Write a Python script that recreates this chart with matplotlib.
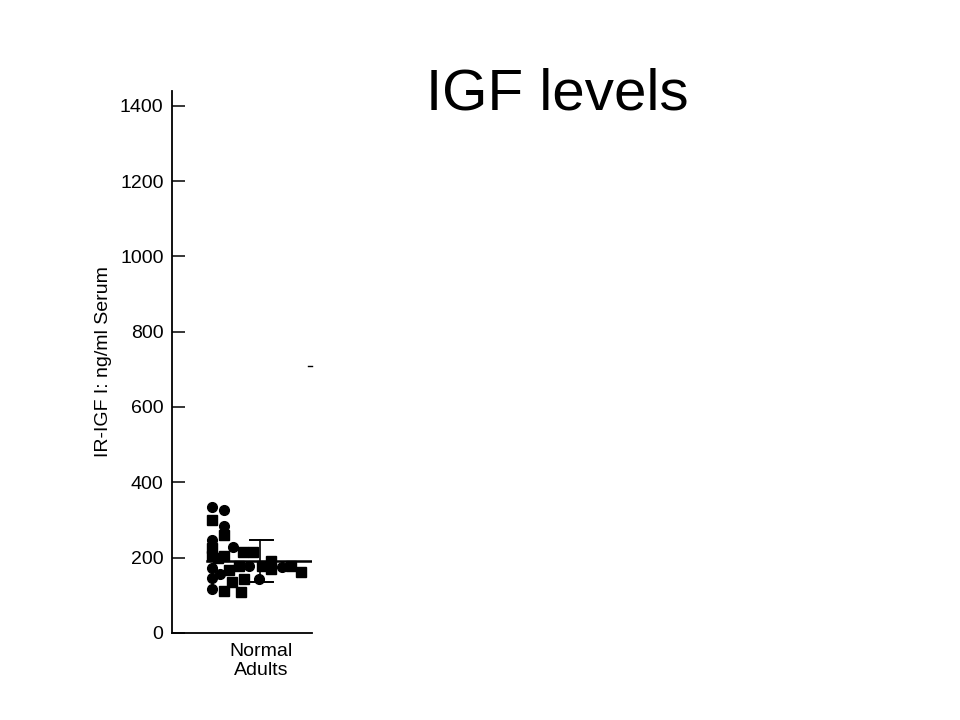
import numpy as np
import matplotlib
matplotlib.use("Agg")
from matplotlib import pyplot as plt

plt.rcParams['font.family'] = ['Liberation Sans', 'DejaVu Sans']

# datos: posicion horizontal (dispersion dentro del grupo) y valor de IGF
circ_x = [4.0, 5.2, 5.2, 4.0, 6.1, 4.0, 4.8, 4.0, 7.7, 4.0, 8.7, 11.0]
circ_y = [334, 326, 283, 248, 227, 172, 157, 145, 177, 117, 143, 175]

sq_x = [4.0, 5.2, 4.0, 4.0, 4.6, 5.2, 7.1, 8.1, 5.7, 6.7, 6.0, 7.2, 5.2, 6.9,
        9.0, 9.9, 9.9, 11.9, 12.9]
sq_y = [300, 261, 226, 203, 200, 203, 215, 215, 168, 177, 136, 144, 110, 108,
        177, 190, 170, 177, 163]

mean_val = 190
sd_high = 246
sd_low = 134
group_label = "Normal\nAdults"
ytick_vals = [0, 200, 400, 600, 800, 1000, 1200, 1400]

fig = plt.figure(figsize=(9.6, 7.2), dpi=100)
ax = fig.add_axes([0.179, 0.121, 0.146, 0.753])

ax.plot(circ_x, circ_y, 'o', color='black', markersize=7, clip_on=False)
ax.plot(sq_x, sq_y, 's', color='black', markersize=6.6, clip_on=False)

# media y desviacion
ax.plot([3.5, 14.0], [mean_val, mean_val], color='black', lw=1.8)
ax.plot([8.8, 8.8], [sd_low, sd_high], color='black', lw=1.2)
ax.plot([7.8, 10.1], [sd_high, sd_high], color='black', lw=1.4)
ax.plot([7.8, 10.1], [sd_low, sd_low], color='black', lw=1.4)
# marca suelta a la derecha
ax.plot([13.6, 14.0], [709, 709], color='black', lw=1.0, clip_on=False)

ax.set_xlim(0, 14)
ax.set_ylim(0, 1440)
ax.set_yticks(ytick_vals)
ax.set_yticklabels([str(v) for v in ytick_vals], fontsize=14)
ax.tick_params(axis='y', direction='in', length=9, width=1.1, pad=6)
ax.set_xticks([8.9])
ax.set_xticklabels([group_label], fontsize=14, linespacing=1.15)
ax.tick_params(axis='x', length=0, pad=7)

ax.spines['top'].set_visible(False)
ax.spines['right'].set_visible(False)
ax.spines['left'].set_linewidth(1.3)
ax.spines['bottom'].set_linewidth(1.3)

ax.set_ylabel("IR-IGF I: ng/ml Serum", fontsize=14, labelpad=6)

fig.text(0.5807, 1 - 110 / 720, "IGF levels", fontsize=42, ha='center',
         va='baseline')

fig.savefig("out.png", dpi=100)
